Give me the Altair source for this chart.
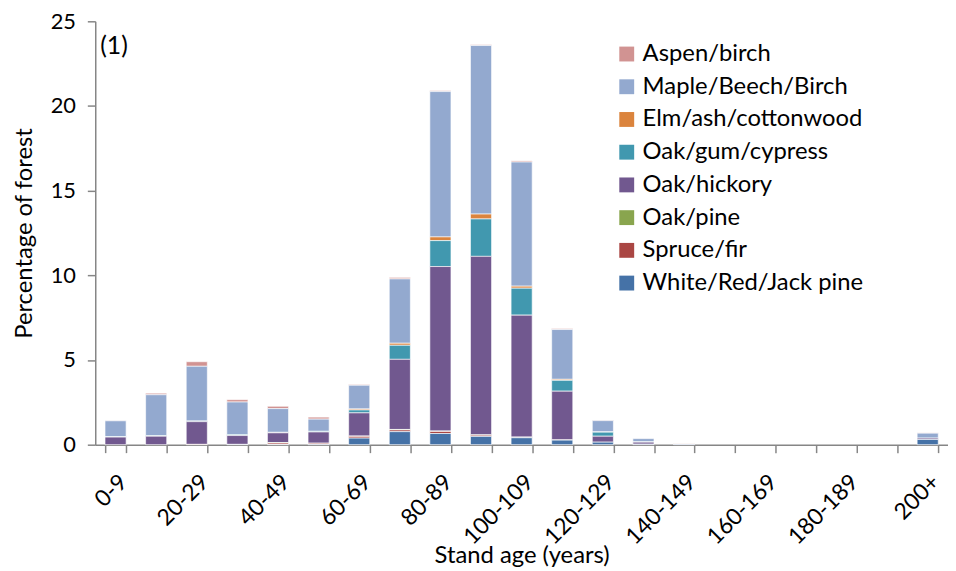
import altair as alt
import pandas as pd

categories = ["0-9", "10-19", "20-29", "30-39", "40-49", "50-59", "60-69", "70-79",
              "80-89", "90-99", "100-109", "110-119", "120-129", "130-139", "140-149",
              "150-159", "160-169", "170-179", "180-189", "190-199", "200+"]
shown_labels = ["0-9", "20-29", "40-49", "60-69", "80-89", "100-109", "120-129",
                "140-149", "160-169", "180-189", "200+"]

# legend order (top to bottom); stacking is the reverse (White/Red/Jack pine at the bottom)
groups = ["Aspen/birch", "Maple/Beech/Birch", "Elm/ash/cottonwood", "Oak/gum/cypress",
          "Oak/hickory", "Oak/pine", "Spruce/fir", "White/Red/Jack pine"]
colors = ["#D19392", "#93A9CF", "#DB843D", "#4198AF", "#71588F", "#89A54E", "#AA4643", "#4572A7"]

white_red_jack = [0, 0, 0, 0.02, 0.02, 0.03, 0.39, 0.77, 0.66, 0.49, 0.41, 0.27, 0.15, 0.03, 0, 0, 0, 0, 0, 0, 0.31]
spruce_fir     = [0, 0, 0.02, 0, 0.08, 0.06, 0.10, 0.10, 0.12, 0.07, 0.02, 0.01, 0, 0, 0, 0, 0, 0, 0, 0, 0]
oak_pine       = [0, 0, 0, 0, 0.02, 0, 0.02, 0.03, 0.03, 0.02, 0.02, 0, 0, 0, 0, 0, 0, 0, 0, 0, 0]
oak_hickory    = [0.45, 0.50, 1.34, 0.52, 0.58, 0.66, 1.37, 4.14, 9.71, 10.54, 7.20, 2.88, 0.35, 0.12, 0, 0, 0, 0, 0, 0, 0.08]
oak_gum        = [0.03, 0.04, 0.04, 0.06, 0.01, 0.04, 0.17, 0.83, 1.53, 2.21, 1.59, 0.64, 0.24, 0.02, 0, 0, 0, 0, 0, 0, 0]
elm_ash        = [0, 0, 0, 0, 0.02, 0, 0.06, 0.12, 0.22, 0.29, 0.12, 0.06, 0.01, 0, 0, 0, 0, 0, 0, 0, 0]
maple_beech    = [0.93, 2.41, 3.23, 1.92, 1.40, 0.72, 1.40, 3.80, 8.58, 9.95, 7.33, 2.94, 0.67, 0.19, 0.04, 0, 0, 0, 0, 0, 0.29]
aspen_birch    = [0.02, 0.09, 0.27, 0.14, 0.14, 0.12, 0.05, 0.09, 0.06, 0.05, 0.07, 0.06, 0.04, 0.01, 0.03, 0, 0, 0, 0, 0, 0.02]

series = {
    "Aspen/birch": aspen_birch,
    "Maple/Beech/Birch": maple_beech,
    "Elm/ash/cottonwood": elm_ash,
    "Oak/gum/cypress": oak_gum,
    "Oak/hickory": oak_hickory,
    "Oak/pine": oak_pine,
    "Spruce/fir": spruce_fir,
    "White/Red/Jack pine": white_red_jack,
}

rows = []
for gi, g in enumerate(groups):
    for ci, c in enumerate(categories):
        rows.append({"age": c, "type": g, "value": series[g][ci], "ord": len(groups) - gi})
df = pd.DataFrame(rows)

FONT = "Lato"

bars = alt.Chart(df).transform_filter("datum.value > 0").mark_bar(
    stroke="white", strokeWidth=0.8, strokeOpacity=0.8
).encode(
    x=alt.X("age:N", sort=categories,
            scale=alt.Scale(domain=categories, paddingInner=0.48, paddingOuter=0.24),
            axis=alt.Axis(title="Stand age (years)", labelAngle=-45, labelFontSize=23,
                          labelExpr="indexof(" + str(shown_labels) + ", datum.label) >= 0 ? datum.label : ''",
                          tickBand="extent", labelPadding=18,
                          titleY=112, titleBaseline="middle")),
    y=alt.Y("value:Q", stack="zero",
            scale=alt.Scale(domain=[0, 25], nice=False),
            axis=alt.Axis(title="Percentage of forest", values=[0, 5, 10, 15, 20, 25],
                          grid=False, labelPadding=12, titlePadding=14, labelFontSize=22)),
    color=alt.Color("type:N", scale=alt.Scale(domain=groups, range=colors),
                    legend=alt.Legend(title=None, orient="none", legendX=524, legendY=21,
                                      symbolType="square", symbolSize=225,
                                      symbolStrokeWidth=0, labelFontSize=24, labelLimit=0,
                                      labelFont=FONT, labelColor="black",
                                      rowPadding=9, labelOffset=4)),
    order=alt.Order("ord:Q", sort="ascending"),
)

label = alt.Chart(pd.DataFrame({"t": ["(1)"]})).mark_text(
    align="left", baseline="middle", fontSize=25, font=FONT, color="black"
).encode(text="t:N", x=alt.value(5), y=alt.value(25))

chart = alt.layer(bars, label).properties(
    width=860, height=427,
    autosize=alt.AutoSizeParams(type="none"),
    padding={"left": 88, "top": 11, "right": 0, "bottom": 130},
).configure_view(stroke=None).configure_axis(
    domainColor="#868686", domainWidth=1.5, tickColor="#868686", tickWidth=1.5, tickSize=8,
    labelFont=FONT, titleFont=FONT, titleFontSize=24,
    labelColor="black", titleColor="black", titleFontWeight="normal",
)

chart.save("out.html", embed_options={"renderer": "svg", "actions": False})
